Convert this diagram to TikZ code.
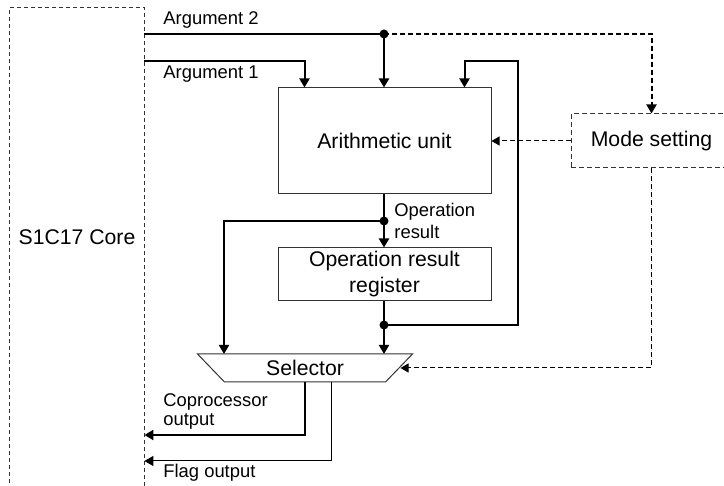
\documentclass[tikz,border=0pt]{standalone}
\usepackage{fontspec}
\setmainfont{Liberation Sans}
\usetikzlibrary{shapes.geometric, arrows.meta}

\begin{document}
\begin{tikzpicture}[x=0.5pt, y=-0.5pt]
        \tikzstyle{box} = [rectangle, draw=black!80, line width=0.5pt, text centered, inner sep=0pt, font=\fontsize{10.6}{13}\selectfont]
        \tikzstyle{dbox} = [box, dash pattern=on 2.5pt off 1.5pt]
        \tikzstyle{sig} = [line width=1pt, -{Triangle[width=5pt,length=4.5pt]}]
        \tikzstyle{ctl} = [line width=0.5pt, dash pattern=on 2.5pt off 1.5pt, -{Triangle[width=4.5pt,length=4pt]}]
        \tikzstyle{dot} = [circle, fill=black, inner sep=0pt, minimum size=4.5pt]
        \tikzstyle{lbl} = [anchor=west, align=left, inner sep=0pt, font=\fontsize{9.2}{11}\selectfont]
        \useasboundingbox (0,0) rectangle (724,486);
        \node (core) [minimum width=67pt, minimum height=229pt, inner sep=0pt, font=\fontsize{10.6}{13}\selectfont] at (77,237) {S1C17 Core};
        \draw [line width=0.5pt, draw=black!80, dash pattern=on 2pt off 1.5pt] (core.west |- 0,490) |- (core.north east) -- (core.east |- 0,490);
        \node (alu) [box, minimum width=106.5pt, minimum height=53pt] at (384.5,141) {Arithmetic unit};
        \node (reg) [box, minimum width=106.5pt, minimum height=26.5pt, align=center] at (384.5,274.5) {Operation result\\register};
        \node (mode) [dbox, minimum width=80.5pt, minimum height=27pt] at (651.5,141) {Mode setting};
        \node (sel) [box, draw=none, minimum width=107pt, minimum height=13.5pt] at (305,368) {Selector};
        \draw [line width=0.5pt, draw=black!80] (sel.north west) -- (sel.north east) -- ([xshift=-13.5pt]sel.south east) -- ([xshift=13.5pt]sel.south west) -- cycle;
        \node (d2) [dot] at (384,34) {};
        \node (dres) [dot] at (384,221) {};
        \node (dreg) [dot] at (384,325) {};
        \draw [line width=1pt] (core.east |- d2) -- (d2.center);
        \draw [sig] (d2.center) -- (d2 |- alu.north);
        \draw [sig, dash pattern=on 2.5pt off 1.5pt] (d2.center) -| (mode.north);
        \draw [sig] (core.east |- 0,61) -| ([xshift=-40pt]alu.north);
        \draw [sig] (dreg.center) -| (518,61) -| ([xshift=40pt]alu.north);
        \draw [line width=1pt] (alu.south -| dres) -- (dres.center);
        \draw [sig] (dres.center) -- (dres |- reg.north);
        \draw [sig] (dres.center) -| ([xshift=-40.5pt]sel.north);
        \draw [line width=1pt] (reg.south -| dreg) -- (dreg.center);
        \draw [sig] (dreg.center) -- (dreg |- sel.north);
        \draw [ctl] (mode) -- (alu);
        \draw [ctl] (mode) |- ([xshift=-6pt]sel.east);
        \draw [sig] (sel.south) |- (core.east |- 0,435);
        \draw [sig, line width=0.5pt] ([xshift=13pt]sel.south) |- (core.east |- 0,461);
        \node (arg2) [lbl] at (163,20) {Argument 2};
        \node (arg1) [lbl] at (163,74) {Argument 1};
        \node (opres) [lbl] at (394,221) {Operation\\result};
        \node (coout) [lbl, font=\fontsize{9.2}{9.5}\selectfont] at (163,411) {Coprocessor\\output};
        \node (flag) [lbl] at (163,473) {Flag output};
    \end{tikzpicture}
\end{document}
